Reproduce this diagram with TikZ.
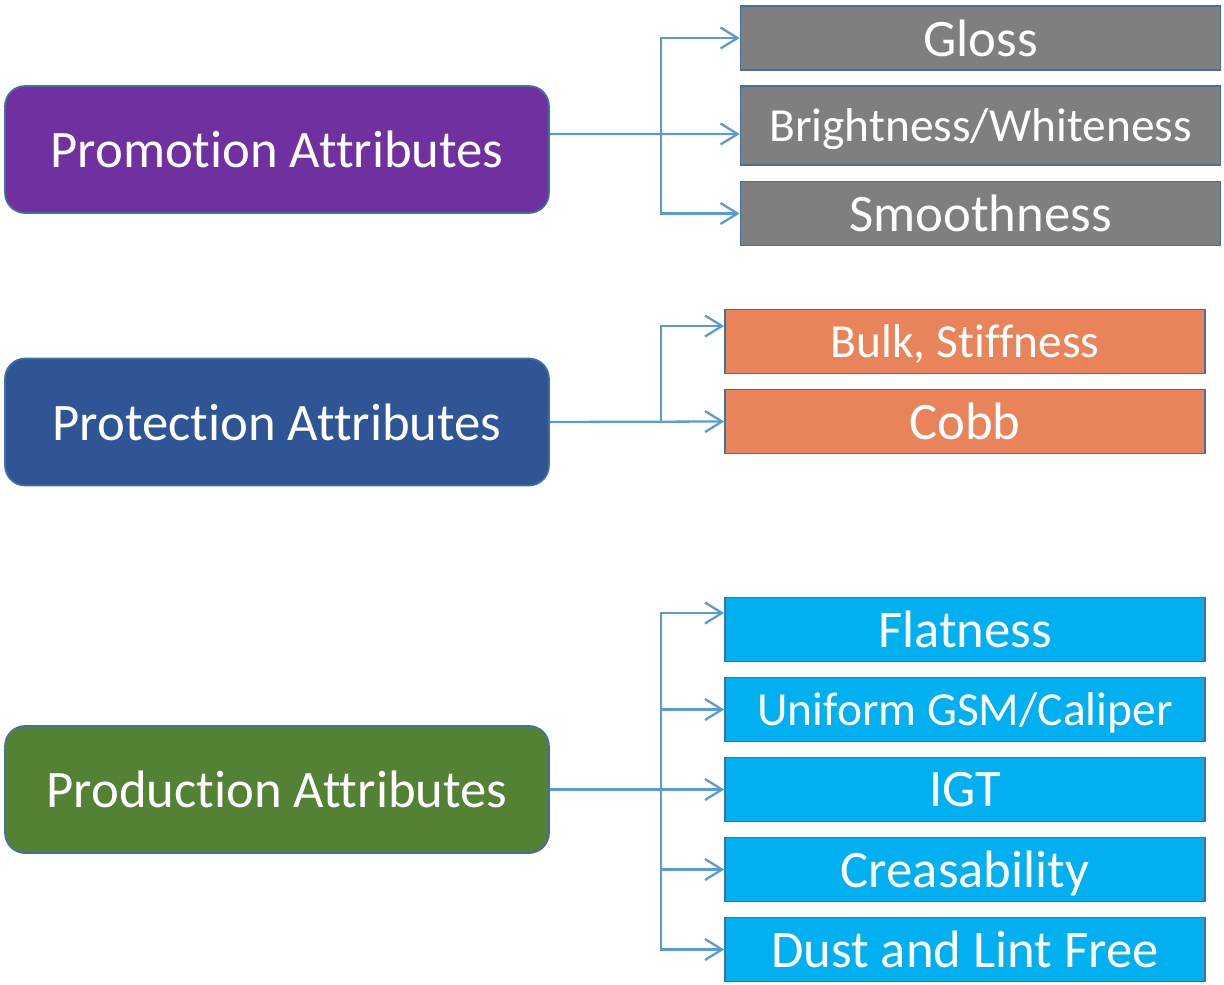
\documentclass[tikz,border=0pt]{standalone}
\usepackage{fontspec}
\setmainfont{Carlito}[Ligatures={NoCommon}]
\usetikzlibrary{arrows.meta}
\definecolor{promocol}{HTML}{7030A0}
\definecolor{protcol}{HTML}{2F5597}
\definecolor{prodcol}{HTML}{548235}
\definecolor{graycol}{HTML}{7F7F7F}
\definecolor{orangecol}{HTML}{E9845A}
\definecolor{cyancol}{HTML}{00B0F0}
\definecolor{edgecol}{HTML}{41719C}
\definecolor{linkcol}{HTML}{5B9BD5}
\begin{document}
\begin{tikzpicture}[x=0.02cm,y=-0.02cm,
  group/.style={draw=edgecol,line width=1pt,rounded corners=0.4cm,text=white,text depth=0pt,
    minimum width=10.88cm,minimum height=2.54cm,font=\fontsize{30}{32}\selectfont},
  item/.style={draw=edgecol,line width=1pt,text=white,text depth=0pt,
    minimum width=9.6cm,minimum height=1.28cm,font=\fontsize{30}{32}\selectfont},
  link/.style={draw=linkcol,line width=1.3pt,-{Straight Barb[length=0.34cm,width=0.42cm]}}]
\useasboundingbox (0,0) rectangle (1224,984);
% left
\node[group,fill=promocol] (promo) at (277,149.5) {Promotion Attributes};
\node[group,fill=protcol] (prot) at (277,422) {Protection Attributes};
\node[group,fill=prodcol] (prod) at (277,789.5) {Production Attributes};
% right
\node[item,fill=graycol] (gloss) at (980.5,38) {Gloss};
\node[item,fill=graycol,minimum height=1.58cm,font=\fontsize{27}{29}\selectfont] (bright) at (980.5,125.5) {Brightness/Whiteness};
\node[item,fill=graycol] (smooth) at (980.5,213.5) {Smoothness};
\node[item,fill=orangecol,font=\fontsize{27}{29}\selectfont] (bulk) at (965,341.5) {Bulk, Stiffness};
\node[item,fill=orangecol] (cobb) at (965,421.5) {Cobb};
\node[item,fill=cyancol] (flat) at (965,629.5) {Flatness};
\node[item,fill=cyancol,font=\fontsize{27}{29}\selectfont] (uniform) at (965,709.5) {Uniform GSM/Caliper};
\node[item,fill=cyancol] (igt) at (965,789.5) {IGT};
\node[item,fill=cyancol] (crease) at (965,869.5) {Creasability};
\node[item,fill=cyancol] (dust) at (965,949.5) {Dust and Lint Free};
% connectors
\coordinate (j1) at (661,134);
\coordinate (j2) at (661,422);
\coordinate (j3) at (661,789.5);
\draw[link] ([yshift=0.31cm]promo.east) -- ([yshift=-0.17cm]bright.west);
\draw[link] (j1) |- (gloss.west);
\draw[link] (j1) |- (smooth.west);
\draw[link] (prot.east) -- (cobb.west);
\draw[link] (j2) |- ([yshift=0.31cm]bulk.west);
\draw[link] (prod.east) -- (igt.west);
\draw[link] (j3) |- ([yshift=0.33cm]flat.west);
\draw[link] (j3) |- (uniform.west);
\draw[link] (j3) |- (crease.west);
\draw[link] (j3) |- (dust.west);
\end{tikzpicture}
\end{document}
